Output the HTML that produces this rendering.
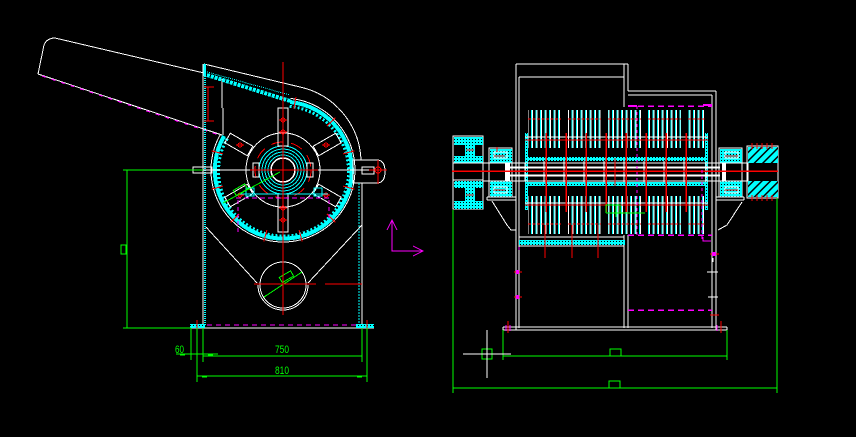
<!DOCTYPE html>
<html><head><meta charset="utf-8"><style>
html,body{margin:0;padding:0;background:#000;overflow:hidden}
svg{display:block}
text{font-family:"Liberation Sans",sans-serif;fill:#0f0}
</style></head><body>
<svg width="856" height="437" viewBox="0 0 856 437" xmlns="http://www.w3.org/2000/svg" shape-rendering="crispEdges">
<defs>
<pattern id="dot" width="3" height="3" patternUnits="userSpaceOnUse"><rect width="3" height="3" fill="#0ff"/><rect x="1" y="1" width="1" height="1" fill="#000"/></pattern>
<pattern id="diag" width="6" height="6" patternUnits="userSpaceOnUse" patternTransform="rotate(45)"><rect width="6" height="6" fill="#0ff"/><rect width="1.5" height="6" fill="#000"/></pattern>
<pattern id="pc" width="4.5" height="4" patternUnits="userSpaceOnUse"><rect x="0" y="0" width="1" height="4" fill="#0ff"/></pattern>
<pattern id="pw" width="4.5" height="4" patternUnits="userSpaceOnUse"><rect x="1" y="0" width="1" height="4" fill="#fff"/></pattern>
</defs>
<rect width="856" height="437" fill="#000"/>

<!-- ================= LEFT VIEW ================= -->
<g fill="none" stroke-width="1">
<path d="M38,74 L44,45 Q47,38 55,38 L204,73" stroke="#fff"/>
<path d="M38,74 L222,135" stroke="#fff"/>
<path d="M42,76 L222,136" stroke="#f0f" stroke-dasharray="4 6"/>
<path d="M222,79 V108 M223,108 V135" stroke="#fff"/>
<path d="M204,64 L300,87 A78 78 0 0 1 361,160" stroke="#fff"/>
<path d="M207,75 L290,101" stroke="#0ff" stroke-width="4" stroke-dasharray="3 1"/>
<path d="M207,72 L290,95" stroke="#0ff" stroke-width="1" stroke-dasharray="1 1"/>
<rect x="203" y="64" width="3" height="12" fill="#0ff" stroke="none"/>
<line x1="203" y1="64" x2="203" y2="328" stroke="#fff"/>
<line x1="205" y1="76" x2="205" y2="326" stroke="#0ff" stroke-width="2" stroke-dasharray="1 1"/>
<path d="M208,87 V121 M204,87 H214 M204,121 H214" stroke="#f00"/>

<!-- ring -->
<path d="M290.5,98.4 A72 72 0 1 1 220.6,134" stroke="#fff"/>
<path d="M290,102 A68.5 68.5 0 1 1 224,136" stroke="#0ff" stroke-width="4"/>
<path d="M289.7,106.4 A65 65 0 1 1 227.6,138" stroke="#0ff" stroke-width="3" stroke-dasharray="2 2"/>
<path d="M293.8,108.9L295.9,97.1M326.8,126.2L335.3,117.7M342.9,153.9L354.5,150.8M342.9,186.1L354.5,189.2M326.8,213.8L335.3,222.3M299.1,229.9L302.2,241.5M266.9,229.9L263.8,241.5M239.2,213.8L230.7,222.3M223.1,186.1L211.5,189.2M223.1,153.9L211.5,150.8" stroke="#f00"/>

<!-- rotor -->
<circle cx="283" cy="170" r="37" stroke="#fff"/>
<circle cx="283" cy="170" r="28" stroke="#f00" stroke-dasharray="12 8"/>
<circle cx="283" cy="170" r="24" stroke="#0ff"/>
<circle cx="283" cy="170" r="21" stroke="#0ff"/>
<circle cx="283" cy="170" r="18" stroke="#0ff"/>
<circle cx="283" cy="170" r="15" stroke="#0ff"/>
<circle cx="283" cy="170" r="12" stroke="#fff" stroke-width="1.5"/>
<rect x="253" y="163" width="6" height="14" stroke="#fff"/>
<rect x="307" y="163" width="6" height="14" stroke="#fff"/>
<rect x="307" y="165" width="38" height="10" stroke="#fff" transform="rotate(-90 283 170)"/>
<rect x="307" y="165" width="38" height="10" stroke="#fff" transform="rotate(90 283 170)"/>
<rect x="321" y="164.5" width="26" height="11" stroke="#fff" transform="rotate(-30 283 170)"/>
<rect x="321" y="164.5" width="26" height="11" stroke="#fff" transform="rotate(-150 283 170)"/>
<rect x="321" y="164.5" width="26" height="11" stroke="#fff" transform="rotate(30 283 170)"/>
<rect x="321" y="164.5" width="26" height="11" stroke="#fff" transform="rotate(150 283 170)"/>
<g stroke="#f00">
<path d="M279,120H287M279,132H287M279,208H287M279,220H287"/>
<circle cx="283" cy="120" r="2"/><circle cx="283" cy="132" r="2"/><circle cx="283" cy="208" r="2"/><circle cx="283" cy="220" r="2"/>
<circle cx="326" cy="145" r="2"/><circle cx="240" cy="145" r="2"/><circle cx="326" cy="195" r="2"/><circle cx="240" cy="195" r="2"/>
<path d="M322,145H330M236,145H244M322,195H330M236,195H244"/>
</g>
<path d="M236,198 H330" stroke="#f0f" stroke-dasharray="5 3"/>
<path d="M240,194 H328" stroke="#0ff"/>
<path d="M238,200 V232 M329,200 V218" stroke="#f0f" stroke-dasharray="4 3"/>
<rect x="246" y="188" width="8" height="8" stroke="#0ff"/>
<rect x="314" y="188" width="8" height="8" stroke="#0ff"/>
<path d="M223,203 L280,172" stroke="#0f0"/>
<rect x="234" y="187" width="13" height="6" stroke="#0f0" transform="rotate(-30 240 190)"/>

<line x1="193" y1="170" x2="385" y2="170" stroke="#fff"/>
<rect x="193" y="167" width="19" height="6" stroke="#fff"/>
<path d="M353,160 H377 Q385,160 385,171.5 Q385,183 377,183 H353 Z" stroke="#fff"/>
<rect x="362" y="167" width="12" height="7" stroke="#fff"/>
<path d="M378,160 V184 M369,170 H387" stroke="#f00"/>
<circle cx="378" cy="170" r="3" stroke="#f00"/>
<line x1="359" y1="183" x2="359" y2="326" stroke="#0ff" stroke-dasharray="2 1"/>
<line x1="362" y1="183" x2="362" y2="328" stroke="#fff"/>
<path d="M206,227 L257,283" stroke="#fff"/>
<path d="M362,225 L308,283" stroke="#fff"/>
<circle cx="283" cy="285" r="23" stroke="#fff"/>
<path d="M258,285 A25 25 0 0 0 308,285" stroke="#fff"/>
<path d="M264,297 L302,272" stroke="#0f0"/>
<rect x="280" y="274" width="13" height="6" stroke="#0f0" transform="rotate(-30 286 277)"/>
<path d="M283,62 V315" stroke="#f00"/>
<path d="M250,170 H318" stroke="#f00"/>
<path d="M254,284 H316 M325,284 H362" stroke="#f00"/>
<line x1="190" y1="328" x2="374" y2="328" stroke="#fff"/>
<rect x="190" y="324" width="15" height="4" fill="url(#dot)" stroke="none"/>
<rect x="356" y="324" width="18" height="4" fill="url(#dot)" stroke="none"/>
<line x1="207" y1="325" x2="356" y2="325" stroke="#f0f" stroke-dasharray="5 4"/>
<path d="M197,320 V331 M367,320 V331" stroke="#f00"/>

<g stroke="#0f0">
<path d="M123,170 H203 M127,170 V328 M123,328 H191"/>
<rect x="121" y="245" width="5" height="9"/>
<path d="M191,328 V360 M197,328 V382 M203,328 V362 M362,328 V362 M367,328 V382"/>
<path d="M176,354 H218 M203,356 H362 M197,376 H367"/>
<path d="M180,354.5 H185 M208,354.5 H213 M202,376.5 H207 M357,376.5 H362" stroke-width="2"/>
</g>
<text x="175" y="353" font-size="11" textLength="9" lengthAdjust="spacingAndGlyphs">60</text>
<text x="275" y="353" font-size="11" textLength="14" lengthAdjust="spacingAndGlyphs">750</text>
<text x="275" y="374" font-size="11" textLength="14" lengthAdjust="spacingAndGlyphs">810</text>

<path d="M392,220 V251 H423 M387,230 L392,220 L397,230 M413,246 L423,251 L413,256" stroke="#f0f"/>
</g>

<!-- ================= RIGHT VIEW ================= -->
<g fill="none" stroke-width="1">
<path d="M516,64 V330 M519,77 V328 M516,64 H628 M519,77 H624 M624,64 V107 M628,64 V91 M628,91 H716 M628,95 H712 M716,91 V330 M712,95 V328 M624,235 V328 M628,235 V328" stroke="#fff"/>
<path d="M503,327 H727 M503,330 H727 M503,327 V330 M727,327 V330" stroke="#fff"/>

<g stroke="none">
<rect x="528" y="110" width="33" height="38" fill="url(#pc)"/>
<rect x="568" y="110" width="33" height="38" fill="url(#pc)"/>
<rect x="608" y="110" width="33" height="38" fill="url(#pc)"/>
<rect x="648" y="110" width="33" height="38" fill="url(#pc)"/>
<rect x="688" y="110" width="17" height="38" fill="url(#pc)"/>
<rect x="528" y="110" width="33" height="38" fill="url(#pw)"/>
<rect x="568" y="110" width="33" height="38" fill="url(#pw)"/>
<rect x="608" y="110" width="33" height="38" fill="url(#pw)"/>
<rect x="648" y="110" width="33" height="38" fill="url(#pw)"/>
<rect x="688" y="110" width="17" height="38" fill="url(#pw)"/>
<rect x="528" y="196" width="33" height="38" fill="url(#pc)"/>
<rect x="568" y="196" width="33" height="38" fill="url(#pc)"/>
<rect x="608" y="196" width="33" height="38" fill="url(#pc)"/>
<rect x="648" y="196" width="33" height="38" fill="url(#pc)"/>
<rect x="688" y="196" width="17" height="38" fill="url(#pc)"/>
<rect x="528" y="196" width="33" height="38" fill="url(#pw)"/>
<rect x="568" y="196" width="33" height="38" fill="url(#pw)"/>
<rect x="608" y="196" width="33" height="38" fill="url(#pw)"/>
<rect x="648" y="196" width="33" height="38" fill="url(#pw)"/>
<rect x="688" y="196" width="17" height="38" fill="url(#pw)"/>
</g>
<path d="M528,119 H561 M568,119 H601 M608,119 H641 M648,119 H681 M688,119 H705" stroke="#f00" stroke-dasharray="3 1.5"/>
<path d="M528,224 H561 M568,224 H601 M608,224 H641 M648,224 H681 M688,224 H705" stroke="#f00" stroke-dasharray="3 1.5"/>

<rect x="525" y="133" width="3" height="77" fill="url(#dot)" stroke="none"/>
<rect x="705" y="133" width="3" height="77" fill="url(#dot)" stroke="none"/>
<path d="M525,137 H708 M525,203 H708" stroke="#fff"/>
<path d="M525,140 H708 M525,205 H708" stroke="#f00"/>
<rect x="526" y="157" width="181" height="4" fill="url(#dot)" stroke="none"/>
<rect x="526" y="182" width="181" height="4" fill="url(#dot)" stroke="none"/>
<path d="M525,163 H708 M525,181 H708" stroke="#fff"/>
<path d="M510,167.5 H720 M510,175.5 H720" stroke="#fff" stroke-width="2"/>
<path d="M544,161V182M564,161V182M584,161V182M604,161V182M624,161V182M644,161V182M664,161V182M684,161V182" stroke="#fff"/>
<path d="M546,133V212M566,133V212M586,133V212M606,133V212M626,133V212M646,133V212M666,133V212M686,133V212" stroke="#f00" stroke-width="1.5"/>
<path d="M615,158 V186" stroke="#f00"/>

<rect x="453" y="136" width="30" height="73" stroke="#fff"/>
<g stroke="none">
<rect x="454" y="137" width="29" height="8" fill="url(#dot)"/>
<rect x="465" y="144" width="10" height="13" fill="url(#dot)"/>
<rect x="454" y="156" width="29" height="7" fill="url(#dot)"/>
<rect x="454" y="181" width="29" height="7" fill="url(#dot)"/>
<rect x="465" y="187" width="10" height="15" fill="url(#dot)"/>
<rect x="454" y="201" width="29" height="8" fill="url(#dot)"/>
</g>
<path d="M453,163 H483 M453,180 H483" stroke="#fff"/>
<path d="M466,150 H474 M466,195 H474" stroke="#f00"/>
<rect x="489" y="148" width="23" height="49" stroke="#fff"/>
<rect x="490" y="149" width="22" height="14" fill="url(#dot)" stroke="none"/>
<rect x="490" y="181" width="22" height="16" fill="url(#dot)" stroke="none"/>
<rect x="494" y="152" width="13" height="6" stroke="#fff"/>
<rect x="494" y="187" width="13" height="6" stroke="#fff"/>
<path d="M494,156 H505 M494,190 H505 M497,147 V152" stroke="#f00"/>
<rect x="483" y="163" width="42" height="18" stroke="#fff"/>
<rect x="505" y="163" width="5" height="18" fill="#fff" stroke="none"/>
<path d="M487,197 H516 M487,200 H516 M487,197 V200 M492,201 L507,225 L511,230 H516" stroke="#fff"/>

<rect x="719" y="148" width="23" height="49" stroke="#fff"/>
<rect x="720" y="149" width="22" height="14" fill="url(#dot)" stroke="none"/>
<rect x="720" y="181" width="22" height="16" fill="url(#dot)" stroke="none"/>
<rect x="725" y="152" width="13" height="6" stroke="#fff"/>
<rect x="725" y="187" width="13" height="6" stroke="#fff"/>
<path d="M725,156 H738 M725,190 H738" stroke="#f00"/>
<rect x="706" y="163" width="42" height="18" stroke="#fff"/>
<rect x="722" y="163" width="4" height="18" fill="#fff" stroke="none"/>
<rect x="747" y="146" width="31" height="52" stroke="#fff"/>
<rect x="748" y="147" width="30" height="16" fill="url(#diag)" stroke="none"/>
<rect x="748" y="181" width="30" height="16" fill="url(#diag)" stroke="none"/>
<path d="M752,143V149M757,143V149M762,143V149M767,143V149M772,143V149M752,195V201M757,195V201M762,195V201M767,195V201M772,195V201" stroke="#f00"/>
<path d="M716,197 H744 M716,200 H744 M744,197 V200 M742,202 L727,225 L718,230" stroke="#fff"/>

<line x1="452" y1="171" x2="778" y2="171" stroke="#f00" stroke-width="1.5"/>

<path d="M628,106 H712" stroke="#f0f" stroke-width="1.5" stroke-dasharray="6 4"/>
<path d="M628,106 H637 M703,105 H712" stroke="#f0f" stroke-width="2"/>
<path d="M637,106 V235" stroke="#f0f" stroke-dasharray="3 3"/>
<path d="M702,170 V240" stroke="#f0f" stroke-dasharray="3 3"/>
<path d="M628,235 H712" stroke="#f0f" stroke-width="1.5" stroke-dasharray="6 4"/>
<path d="M703,237 V241 H711" stroke="#f0f"/>
<path d="M606,213 V205 H620 V213 M606,213 H645 M616,205 V217" stroke="#0f0"/>

<path d="M519,237 H624 M519,246 H624" stroke="#fff"/>
<rect x="519" y="240" width="106" height="5" fill="url(#dot)" stroke="none"/>
<path d="M545,225V258M572,225V258M598,225V258" stroke="#f00" stroke-width="1.2"/>
<path d="M519,247 V250" stroke="#f0f"/>

<path d="M514,272 H522 M514,297 H522 M710,254 H719 M710,315 H719 M508,321 V333 M721,321 V333" stroke="#f00"/>
<rect x="516" y="270" width="3" height="4" fill="#f0f" stroke="none"/>
<rect x="516" y="295" width="3" height="4" fill="#f0f" stroke="none"/>
<rect x="712" y="252" width="4" height="4" fill="#f0f" stroke="none"/>
<path d="M707,272 H718 M708,297 H718 M713,258 V262" stroke="#fff"/>
<path d="M628,310 H712" stroke="#f0f" stroke-width="1.5" stroke-dasharray="6 4"/>
<path d="M506,325 V331 M510,325 V331 M717,325 V331" stroke="#f0f"/>

<g stroke="#0f0">
<path d="M503,330 V360 M727,330 V360 M503,356 H727"/>
<rect x="610" y="349" width="11" height="7"/>
<path d="M453,210 V393 M777,198 V393 M453,388 H777"/>
<rect x="609" y="381" width="11" height="7"/>
<rect x="482" y="349" width="10" height="10"/>
</g>
<path d="M463,354 H511 M487,330 V378" stroke="#fff"/>
</g>
</svg>
</body></html>
